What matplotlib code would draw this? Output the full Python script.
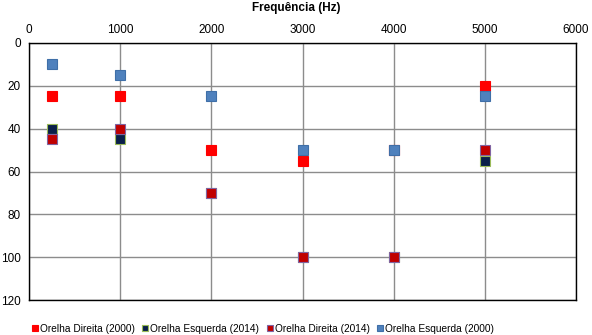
import matplotlib
matplotlib.use("Agg")
import matplotlib.pyplot as plt

plt.rcParams["font.family"] = ["Liberation Sans", "DejaVu Sans"]

freqs = [250, 1000, 2000, 3000, 4000, 5000]
od_2000 = [25, 25, 50, 55, 50, 20]
oe_2014 = [40, 45, 70, 100, 100, 55]
od_2014 = [45, 40, 70, 100, 100, 50]
oe_2000 = [10, 15, 25, 50, 50, 25]

series = [
    ("Orelha Direita (2000)", od_2000, "#FF0000", "#FF0000"),
    ("Orelha Esquerda (2014)", oe_2014, "#0A1F4A", "#9BBB59"),
    ("Orelha Direita (2014)", od_2014, "#C00000", "#8064A2"),
    ("Orelha Esquerda (2000)", oe_2000, "#4F81BD", "#3F6FA8"),
]

fig = plt.figure(figsize=(5.92, 3.35), dpi=100)
ax = fig.add_axes([0.049, 0.104, 0.924, 0.768])

for label, vals, face, edge in series:
    ax.plot(freqs, vals, linestyle="none", marker="s", markersize=7.5,
            markerfacecolor=face, markeredgecolor=edge, markeredgewidth=0.8,
            label=label, zorder=3)

ax.set_xlim(0, 6000)
ax.set_ylim(120, 0)
ax.set_xticks(range(0, 6001, 1000))
ax.set_yticks(range(0, 121, 20))
ax.xaxis.tick_top()
ax.tick_params(length=0, labelsize=8.5)
ax.tick_params(axis="x", pad=5)
ax.tick_params(axis="y", pad=6)
ax.grid(color="#8c8c8c", linewidth=1)
for s in ax.spines.values():
    s.set_color("black")
    s.set_linewidth(1)

fig.text(0.5, 0.995, "Frequência (Hz)", ha="center", va="top",
         fontsize=8.5, fontweight="bold")

fig.legend(loc="center left", bbox_to_anchor=(27 / 592, 1 - 329 / 335), ncol=4,
           frameon=False, fontsize=7.3, handlelength=0.5, handletextpad=0.25,
           columnspacing=0.8, markerscale=0.6, borderpad=0)

fig.savefig("out.png", dpi=100)
